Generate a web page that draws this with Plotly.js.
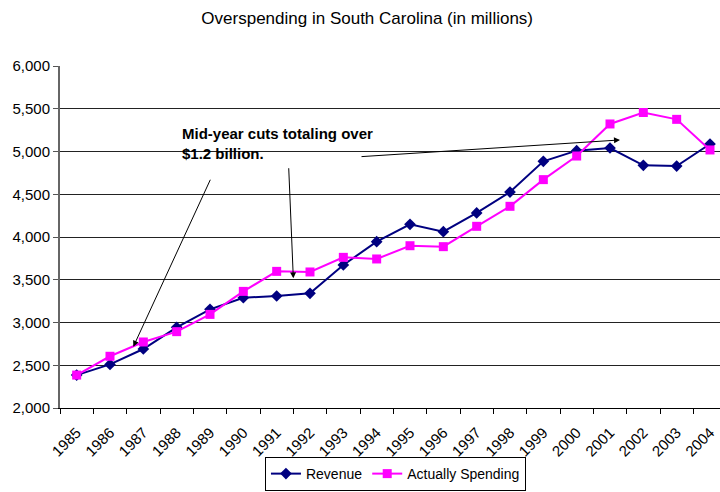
<!DOCTYPE html>
<html>
<head>
<meta charset="utf-8">
<script src="https://cdn.plot.ly/plotly-3.0.1.min.js"></script>
<style>body{margin:0;background:#fff}</style>
</head>
<body>
<div id="chart" style="width:720px;height:492px"></div>
<script>
var years = ['1985','1986','1987','1988','1989','1990','1991','1992','1993','1994',
             '1995','1996','1997','1998','1999','2000','2001','2002','2003','2004'];
var revenue = [2385, 2510, 2690, 2944, 3154, 3290, 3310, 3341, 3673, 3945,
               4148, 4062, 4281, 4526, 4885, 5010, 5041, 4838, 4830, 5088];
var spending = [2385, 2605, 2772, 2893, 3095, 3364, 3598, 3591, 3762, 3743,
                3898, 3887, 4125, 4359, 4671, 4947, 5322, 5456, 5376, 5018];

var font = 'Arial, "Liberation Sans", sans-serif';

var rev = {
  x: years, y: revenue, name: 'Revenue', type: 'scatter', mode: 'lines+markers',
  line: {color: '#000080', width: 2},
  marker: {symbol: 'diamond', size: 9, color: '#000080'}
};
var spend = {
  x: years, y: spending, name: 'Actually Spending', type: 'scatter', mode: 'lines+markers',
  line: {color: '#FF00FF', width: 2},
  marker: {symbol: 'square', size: 9, color: '#FF00FF'}
};

// arrows: head (x,y) and tail (ax,ay) in data units
function arrow(x, y, ax, ay) {
  return {x: x, y: y, ax: ax, ay: ay, xref: 'x', yref: 'y', axref: 'x', ayref: 'y',
          showarrow: true, arrowhead: 2, arrowsize: 1.2, arrowwidth: 1, arrowcolor: '#000', text: ''};
}

var layout = {
  width: 720, height: 492,
  margin: {l: 60, r: 0, t: 66, b: 84},
  paper_bgcolor: '#fff', plot_bgcolor: '#fff',
  font: {family: font, size: 15, color: '#000'},
  title: {text: 'Overspending in South Carolina (in millions)', font: {family: font, size: 17, color: '#000'},
          x: 0.51, xref: 'container', y: 0.963, yanchor: 'middle'},
  xaxis: {
    type: 'category', range: [-0.5, 19.3], tickangle: -45, automargin: false,
    ticks: 'outside', tickson: 'boundaries', ticklen: 5, tickcolor: '#000',
    ticklabelstandoff: 9,
    showgrid: false, showline: true, linecolor: '#000', linewidth: 1,
    tickfont: {family: font, size: 15, color: '#000'}
  },
  yaxis: {
    range: [2000, 6000], dtick: 500, tickformat: ',d', automargin: false,
    ticks: 'outside', ticklen: 5, tickcolor: '#555',
    showgrid: true, gridcolor: '#222', gridwidth: 1,
    showline: true, linecolor: '#666', linewidth: 2, zeroline: false,
    tickfont: {family: font, size: 15, color: '#000'}
  },
  showlegend: true,
  legend: {orientation: 'h', x: 0.368, xref: 'container', xanchor: 'left',
           y: 0.002, yref: 'container', yanchor: 'bottom',
           bordercolor: '#000', borderwidth: 1, font: {family: font, size: 14, color: '#000'},
           itemwidth: 30, tracegroupgap: 0},
  annotations: [
    {x: 3.1, y: 5330, xref: 'x', yref: 'y', xanchor: 'left', yanchor: 'top', align: 'left',
     showarrow: false, text: '<b>Mid-year cuts totaling over<br>$1.2 billion.</b>',
     font: {family: font, size: 15, color: '#000'}},
    arrow(1.70, 2717, 4.03, 4687),
    arrow(6.50, 3517, 6.36, 4822),
    arrow(16.3, 5135, 8.5, 4939)
  ]
};

Plotly.newPlot('chart', [rev, spend], layout, {displayModeBar: false});
</script>
</body>
</html>
